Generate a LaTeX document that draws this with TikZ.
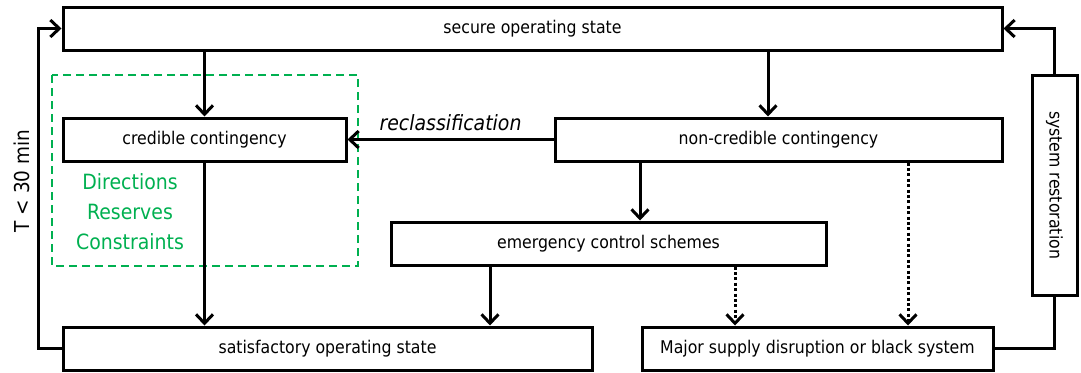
\documentclass[tikz,border=0pt]{standalone}
\usepackage{fontspec}
\setmainfont{DejaVu Sans Condensed}
\usetikzlibrary{positioning,arrows.meta,calc}
\definecolor{dirgreen}{RGB}{0,176,80}

\begin{document}
\begin{tikzpicture}[x=1pt,y=-1pt,
  box/.style={draw,line width=3pt,minimum height=43pt,inner sep=0pt,font=\fontsize{17.5}{20}\selectfont},
  link/.style={line width=3pt},
  dots/.style={line width=3pt,dash pattern=on 3pt off 2.4pt},
  green/.style={text=dirgreen,font=\fontsize{21}{24}\selectfont},
  >={Straight Barb[length=9pt,width=17pt,line width=3pt]}]

\useasboundingbox (0,0) rectangle (1081,372);

\node[box,minimum width=939pt] (secure) at (532.5,28.5) {secure operating state};
\node[box,minimum width=283pt] (cred) at (204.5,139.5) {credible contingency};
\node[box,minimum width=447pt] (noncred) at (778.5,139.5) {non-credible contingency};
\node[box,minimum width=435pt] (ecs) at (608.5,243.5) {emergency control schemes};
\node[box,minimum width=529pt] (sat) at (327.5,348.5) {satisfactory operating state};
\node[box,minimum width=351pt] (major) at (817.5,348.5) {Major supply disruption or black system};
\node[box,minimum width=45pt,minimum height=220pt] (restor) at (1054.5,185) {\rotatebox{-90}{system restoration}};

% directions box
\draw[dirgreen,line width=2.6pt,dash pattern=on 8pt off 5pt] (52,75) rectangle (358,266);
\node[green] (dir) at (130,182) {Directions};
\node[green] (res) at (130,212) {Reserves};
\node[green] (con) at (130,242) {Constraints};

\coordinate (x1) at (768,0);
\coordinate (x2) at (640,0);
\coordinate (x3) at (490,0);
\coordinate (x4) at (735,0);
\coordinate (x5) at (908,0);

\draw[link,->] (cred.north |- secure.south) -- (cred.north);
\draw[link,->] (x1 |- secure.south) -- (x1 |- noncred.north);
\draw[link,->] (noncred.west) -- node[above=4pt,font=\fontsize{21}{24}\selectfont\itshape] (recl) {reclassification} (cred.east);
\draw[link,->] (x2 |- noncred.south) -- (x2 |- ecs.north);
\draw[link,->] (cred.south) -- (cred.south |- sat.north);
\draw[link,->] (x3 |- ecs.south) -- (x3 |- sat.north);
\draw[dots,->] (x4 |- ecs.south) -- (x4 |- major.north);
\draw[dots,->] (x5 |- noncred.south) -- (x5 |- major.north);
\draw[link] (major.east) -| (restor.south);
\draw[link,->] (restor.north) |- (secure.east);
\draw[link,->] (sat.west) -- ++(-23,0) |- (secure.west);

\node[rotate=90,font=\fontsize{20.5}{23}\selectfont] (tmin) at (22,181) {T < 30 min};
\end{tikzpicture}
\end{document}
